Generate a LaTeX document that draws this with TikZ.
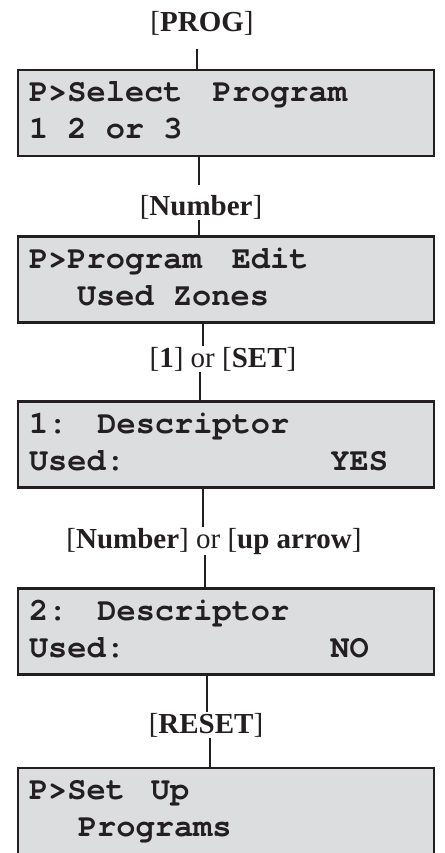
\documentclass[tikz,border=0pt]{standalone}
\usepackage{fontspec}
\setmainfont{Liberation Serif}
\setmonofont{TeX Gyre Cursor}
\usetikzlibrary{positioning}
\definecolor{lcdgray}{RGB}{220,221,223}
\definecolor{ink}{RGB}{35,31,32}
\newcommand{\cel}{\hspace{19.2pt}}
\newcommand{\dsp}{\hspace{30pt}}

\begin{document}
\begin{tikzpicture}[x=1pt, y=-1pt,
        lcd/.style={draw=ink, fill=lcdgray, line width=2.2pt, minimum width=416pt,
            minimum height=86pt, text width=394pt, inner xsep=11pt, inner ysep=0pt,
            align=left, text=ink, font=\fontsize{32}{37}\selectfont\ttfamily\bfseries},
        keylbl/.style={anchor=base, inner sep=1pt, text=ink, font=\fontsize{29}{31}\selectfont},
        wire/.style={draw=ink, line width=2pt},
    ]
    \useasboundingbox (0,0) rectangle (444,853);

    % ---- LCD screens ----
    \node[lcd] (b1) at (226,113)   {\strut P>Select\dsp Program\\ \strut 1\cel 2\cel or\cel 3};
    \node[lcd] (b2) at (226,279.5) {\strut P>Program\dsp Edit\\ \strut\hspace*{48pt}Used\cel Zones};
    \node[lcd] (b3) at (226,444.5) {\strut 1:\dsp Descriptor\\ \strut Used:\hspace{205.4pt}YES};
    \node[lcd] (b4) at (226,631.5) {\strut 2:\dsp Descriptor\\ \strut Used:\hspace{205.4pt}NO};
    \node[lcd] (b5) at (226,811)   {\strut P>Set\hspace{26pt}Up\\ \strut\hspace*{49pt}Programs};

    % ---- Key presses ----
    \node[keylbl] (prog)  at (202,32)  {[\textbf{PROG}]};
    \node[keylbl] (num)   at (201,215) {[\textbf{Number}]};
    \node[keylbl] (one)   at (223,367) {[\textbf{1}] or [\textbf{SET}]};
    \node[keylbl] (numup) at (214,548) {[\textbf{Number}] or [\textbf{up arrow}]};
    \node[keylbl] (reset) at (206,733) {[\textbf{RESET}]};

    % ---- Connectors ----
    \draw[wire, shorten <=12pt] ([xshift=-5pt]prog.south) -- ([xshift=-5pt]prog.south |- b1.north);
    \draw[wire, shorten >=9pt] ([xshift=-2pt]num.north |- b1.south) -- ([xshift=-2pt]num.north);
    \draw[wire] ([xshift=-2pt]num.south) -- ([xshift=-2pt]num.south |- b2.north);
    \draw[wire] ([xshift=-20pt]one.north |- b2.south) -- ([xshift=-20pt]one.north);
    \draw[wire] ([xshift=-23pt]one.south) -- ([xshift=-23pt]one.south |- b3.north);
    \draw[wire] ([xshift=-11pt]numup.north |- b3.south) -- ([xshift=-11pt]numup.north);
    \draw[wire] ([xshift=-9pt]numup.south) -- ([xshift=-9pt]numup.south |- b4.north);
    \draw[wire] ([xshift=1pt]reset.north |- b4.south) -- ([xshift=1pt]reset.north);
    \draw[wire] ([xshift=4pt]reset.south) -- ([xshift=4pt]reset.south |- b5.north);

\end{tikzpicture}
\end{document}
